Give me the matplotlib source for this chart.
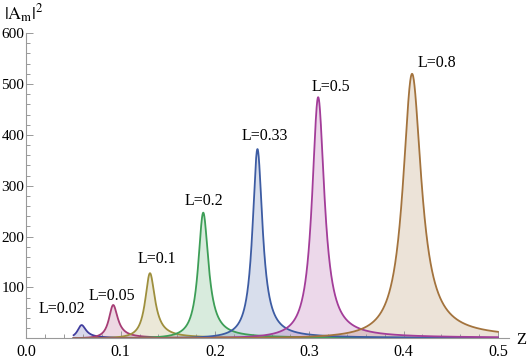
import numpy as np
import matplotlib
matplotlib.use('Agg')
import matplotlib.pyplot as plt
from matplotlib.ticker import MultipleLocator

plt.rcParams['font.family'] = ['Liberation Serif', 'DejaVu Serif']
plt.rcParams['mathtext.fontset'] = 'stix'

# resonance peaks
L_values = [0.02, 0.05, 0.1, 0.2, 0.33, 0.5, 0.8]
peak_z = [0.0585, 0.092, 0.131, 0.1875, 0.245, 0.3094, 0.409]
peak_height = [26, 65.5, 128, 247, 372, 474, 520]
half_width = [0.0055, 0.0057, 0.0063, 0.0066, 0.0064, 0.0079, 0.0118]
label_z = [0.0376, 0.0907, 0.1384, 0.188, 0.253, 0.323, 0.435]
label_y = [57.6, 83, 156, 269, 398, 494, 541]

colors = [(0.25, 0.24, 0.62), (0.65, 0.24, 0.46), (0.62, 0.56, 0.24),
          (0.24, 0.62, 0.34), (0.24, 0.36, 0.64), (0.64, 0.24, 0.60),
          (0.64, 0.45, 0.24)]

z = np.linspace(0.05, 0.5, 2000)

fig = plt.figure(figsize=(5.31, 3.62), dpi=100)
ax = fig.add_axes([0.0499, 0.0655, 0.909, 0.843])

for i in range(len(L_values)):
    # lorentzian in 1/Z, width taken from the half width in Z
    g = half_width[i] / peak_z[i] ** 2
    du = 1 / z - 1 / peak_z[i]
    a2 = peak_height[i] * g ** 2 / (du ** 2 + g ** 2)
    ax.fill_between(z, 0, a2, color=colors[i], alpha=0.2, lw=0)
    ax.plot(z, a2, color=colors[i], lw=1.3)
    ax.text(label_z[i], label_y[i], f'L={L_values[i]}', ha='center', va='center',
            fontsize=11.5)

ax.set_xlim(0, 0.512)
ax.set_ylim(0, 600)
for s in ['top', 'right']:
    ax.spines[s].set_visible(False)
for s in ['left', 'bottom']:
    ax.spines[s].set_color('#999999')
    ax.spines[s].set_linewidth(0.8)

ax.set_xticks([0.0, 0.1, 0.2, 0.3, 0.4, 0.5])
ax.set_xticklabels(['0.0', '0.1', '0.2', '0.3', '0.4', '0.5'])
ax.set_yticks([100, 200, 300, 400, 500, 600])
ax.xaxis.set_minor_locator(MultipleLocator(0.02))
ax.yaxis.set_minor_locator(MultipleLocator(20))
ax.tick_params(which='both', direction='in', color='#999999', width=0.7)
ax.tick_params(which='major', length=5)
ax.tick_params(which='minor', length=3)
ax.tick_params(axis='x', labelsize=11.5, pad=4)
ax.tick_params(axis='y', labelsize=11, pad=1.5)

fig.text(0.008, 0.945, r'$|\mathrm{A}_\mathrm{m}|^2$', fontsize=13, ha='left', va='baseline')
fig.text(0.972, 0.062, 'Z', fontsize=12, ha='left', va='center')

fig.savefig('out.png', dpi=100)
